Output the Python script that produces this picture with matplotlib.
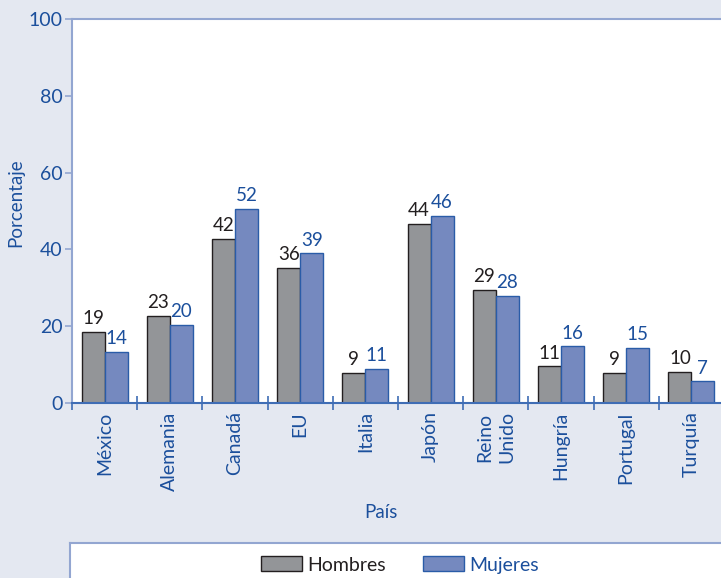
import matplotlib.pyplot as plt
from matplotlib.patches import Patch

# Data
paises = ["México", "Alemania", "Canadá", "EU", "Italia", "Japón",
          "Reino\nUnido", "Hungría", "Portugal", "Turquía"]
hombres = [18.5, 22.7, 42.7, 35.2, 7.8, 46.6, 29.4, 9.6, 7.8, 8.1]
mujeres = [13.3, 20.3, 50.5, 39.0, 8.9, 48.7, 27.9, 14.8, 14.3, 5.7]
etiquetas_h = ["19", "23", "42", "36", "9", "44", "29", "11", "9", "10"]
etiquetas_m = ["14", "20", "52", "39", "11", "46", "28", "16", "15", "7"]

# Colors
bg = "#E4E8F1"
azul = "#1B4F9C"
azul_claro = "#93A6D1"
gris = "#939598"
lila = "#7589BF"

plt.rcParams['font.family'] = ['Lato', 'DejaVu Sans']

fig = plt.figure(figsize=(7.21, 5.78), dpi=100, facecolor=bg)
ax = fig.add_axes([72/721, 1 - 403/578, 1 - 72/721, (403 - 19)/578])
ax.set_facecolor("white")

x = list(range(len(paises)))
w = 0.353
bars_h = ax.bar([i - w/2 for i in x], hombres, width=w, color=gris,
                edgecolor="#231F20", linewidth=1.0)
bars_m = ax.bar([i + w/2 for i in x], mujeres, width=w, color=lila,
                edgecolor="#2A5CA8", linewidth=1.0)

# Value labels
for bar, lab in zip(bars_h, etiquetas_h):
    ax.text(bar.get_x() + bar.get_width()/2, bar.get_height() + 1.2, lab,
            ha='center', va='bottom', fontsize=13.5, color="#231F20")
for bar, lab in zip(bars_m, etiquetas_m):
    ax.text(bar.get_x() + bar.get_width()/2, bar.get_height() + 1.2, lab,
            ha='center', va='bottom', fontsize=13.5, color=azul)

# Axes
ax.set_xlim(-0.5, -0.5 + 649/65.2)
ax.set_ylim(0, 100)
ax.set_yticks([0, 20, 40, 60, 80, 100])
ax.tick_params(axis='y', colors=azul_claro, labelcolor=azul, labelsize=14,
               length=5, width=1.2, pad=2)
ax.set_xticks(x)
ax.set_xticklabels(paises, rotation=90, fontsize=14, color=azul,
                   va='top', ha='center', linespacing=1.3)
ax.tick_params(axis='x', which='major', length=0, pad=6)
ax.set_xticks([i + 0.5 for i in range(-1, 9)], minor=True)
ax.tick_params(axis='x', which='minor', direction='inout', length=10,
               width=1.2, color="#3F6DB5")

for s in ["left", "top"]:
    ax.spines[s].set_color(azul_claro)
    ax.spines[s].set_linewidth(1.5)
ax.spines["bottom"].set_color("#3F6DB5")
ax.spines["bottom"].set_linewidth(1.5)
ax.spines["right"].set_visible(False)

fig.text(16/721, 1 - 203/578, "Porcentaje", rotation=90, ha='center',
         va='center', fontsize=13.5, color=azul)
fig.text(381/721, 1 - 513/578, "País", ha='center', va='center',
         fontsize=13.5, color=azul)

# Legend box
lax = fig.add_axes([70/721, 0, 1 - 70/721, (578 - 543)/578])
lax.set_facecolor("white")
lax.set_xticks([])
lax.set_yticks([])
for s in ["left", "top"]:
    lax.spines[s].set_color(azul_claro)
    lax.spines[s].set_linewidth(1.5)
for s in ["right", "bottom"]:
    lax.spines[s].set_visible(False)

handles = [Patch(facecolor=gris, edgecolor="#231F20", label="Hombres"),
           Patch(facecolor=lila, edgecolor="#2A5CA8", label="Mujeres")]
leg = fig.legend(handles=handles, loc='center',
                 bbox_to_anchor=(400/721, 1 - 565/578), ncol=2,
                 frameon=False, fontsize=14, handlelength=2.1,
                 handleheight=0.8, handletextpad=0.3, columnspacing=1.9)
leg.get_texts()[0].set_color("#231F20")
leg.get_texts()[1].set_color(azul)

fig.savefig("out.png", dpi=100, facecolor=bg)
